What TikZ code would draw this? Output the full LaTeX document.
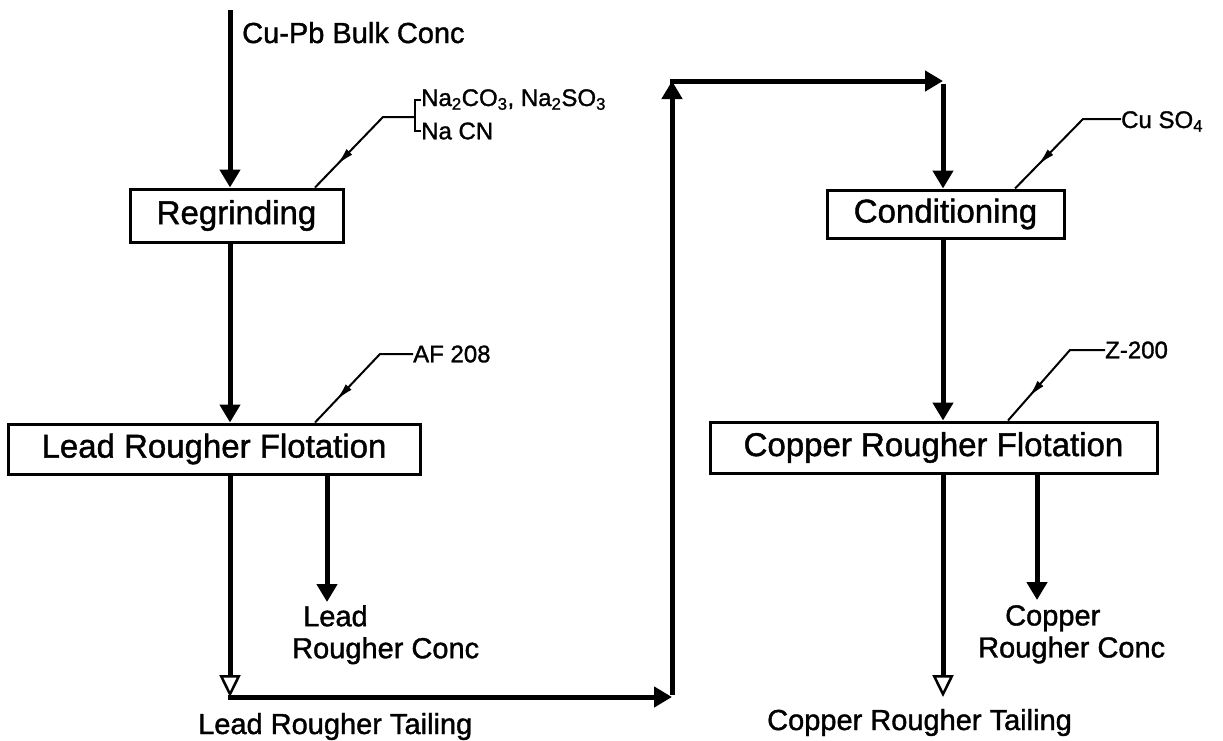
\documentclass[tikz,border=0pt]{standalone}
\usepackage{fontspec}
\setmainfont{Liberation Sans}[BoldFont=Liberation Sans, BoldFeatures={FakeBold=1.3}]
\usetikzlibrary{arrows.meta,decorations.markings,positioning}

\tikzset{
  unit/.style={draw, line width=3pt, inner sep=0pt, font=\fontsize{33}{36}\selectfont\bfseries},
  lbl/.style={inner sep=0pt, font=\fontsize{29}{32}\selectfont\bfseries},
  chem/.style={inner sep=0pt, font=\fontsize{24}{27}\selectfont\bfseries},
  flow/.style={line width=5pt, -{Triangle[width=20pt,length=18pt]}},
  tail/.style={line width=5pt, -{Triangle[open,width=21pt,length=22pt,line width=2.5pt]}},
  pipe/.style={line width=2pt},
  addline/.style={pipe, postaction={decorate}, decoration={markings,
    mark=at position 0.76 with {\arrow{Latex[length=18pt,width=8pt]}}}}
}

\begin{document}
\begin{tikzpicture}[x=1pt,y=-1pt]
\useasboundingbox (0,0) rectangle (1223,740);

% process units
\node[unit, minimum width=213pt, minimum height=53pt] (regrind) at (236.5,215.5) {Regrinding};
\node[unit, minimum width=412pt, minimum height=50pt] (leadflot) at (214,449) {Lead Rougher Flotation};
\node[unit, minimum width=237pt, minimum height=48pt] (cond) at (945.5,214) {Conditioning};
\node[unit, minimum width=447pt, minimum height=51pt] (copflot) at (933.5,447.5) {Copper Rougher Flotation};

% streams
\node[lbl, anchor=base west] (feed) at (242,43) {Cu-Pb Bulk Conc};
\node[lbl, anchor=north west, align=left] (leadconc) at (292,605) {\hspace*{11pt}Lead\\Rougher Conc};
\node[lbl, anchor=base west] (leadtail) at (198,734) {Lead Rougher Tailing};
\node[lbl, anchor=north west, align=left] (copconc) at (978,605) {\hspace*{27pt}Copper\\Rougher Conc};
\node[lbl, anchor=base west] (coptail) at (767,730) {Copper Rougher Tailing};

% reagents
\node[chem, anchor=base west] (na1) at (421,106) {Na\textsubscript{2}CO\textsubscript{3}, Na\textsubscript{2}SO\textsubscript{3}};
\node[chem, anchor=west] (na2) at (421,131) {Na CN};
\node[chem, anchor=west] (af) at (413,354) {AF 208};
\node[chem, anchor=base west] (cuso) at (1121,128) {Cu SO\textsubscript{4}};
\node[chem, anchor=west] (zee) at (1105,350) {Z-200};

\coordinate (top) at (230,10);
\coordinate (lt) at (230,697);
\coordinate (lr) at (672,697);
\coordinate (ul) at (672,81);
\coordinate (ur) at (943,81);
\coordinate (brk) at (415,117);

% lead circuit
\draw[flow] (top) -- (regrind.north -| top);
\draw[flow] (regrind.south -| top) -- (leadflot.north -| top);
\draw[flow] (leadflot.south -| 327,0) -- (327,602);
\draw[tail] (leadflot.south -| top) -- (lt);

% tailing to copper circuit
\draw[flow] ([xshift=-2.5pt]lt) -- (lr);
\draw[flow] ([yshift=2.5pt]lr) -- (ul);
\draw[flow] ([xshift=-2.5pt]ul) -- (ur);
\draw[flow] ([yshift=-2.5pt]ur) -- (cond.north -| ur);

% copper circuit
\draw[flow] (cond.south -| ur) -- (copflot.north -| ur);
\draw[flow] (copflot.south -| 1037,0) -- (1037,600);
\draw[tail] (copflot.south -| ur) -- (943,697);

% reagent additions
\draw[pipe] (na1.west) -- (na1.west -| brk) -- (na2.west -| brk) -- (na2.west);
\draw[addline] (brk) -- (383,117) -- (regrind.north -| 315,0);
\draw[addline] (af.west) -- (380,354) -- (leadflot.north -| 315,0);
\draw[addline] (cuso.west |- 0,119) -- (1083,119) -- (cond.north -| 1015,0);
\draw[addline] (zee.west) -- (1070,350) -- (copflot.north -| 1008,0);
\end{tikzpicture}
\end{document}
